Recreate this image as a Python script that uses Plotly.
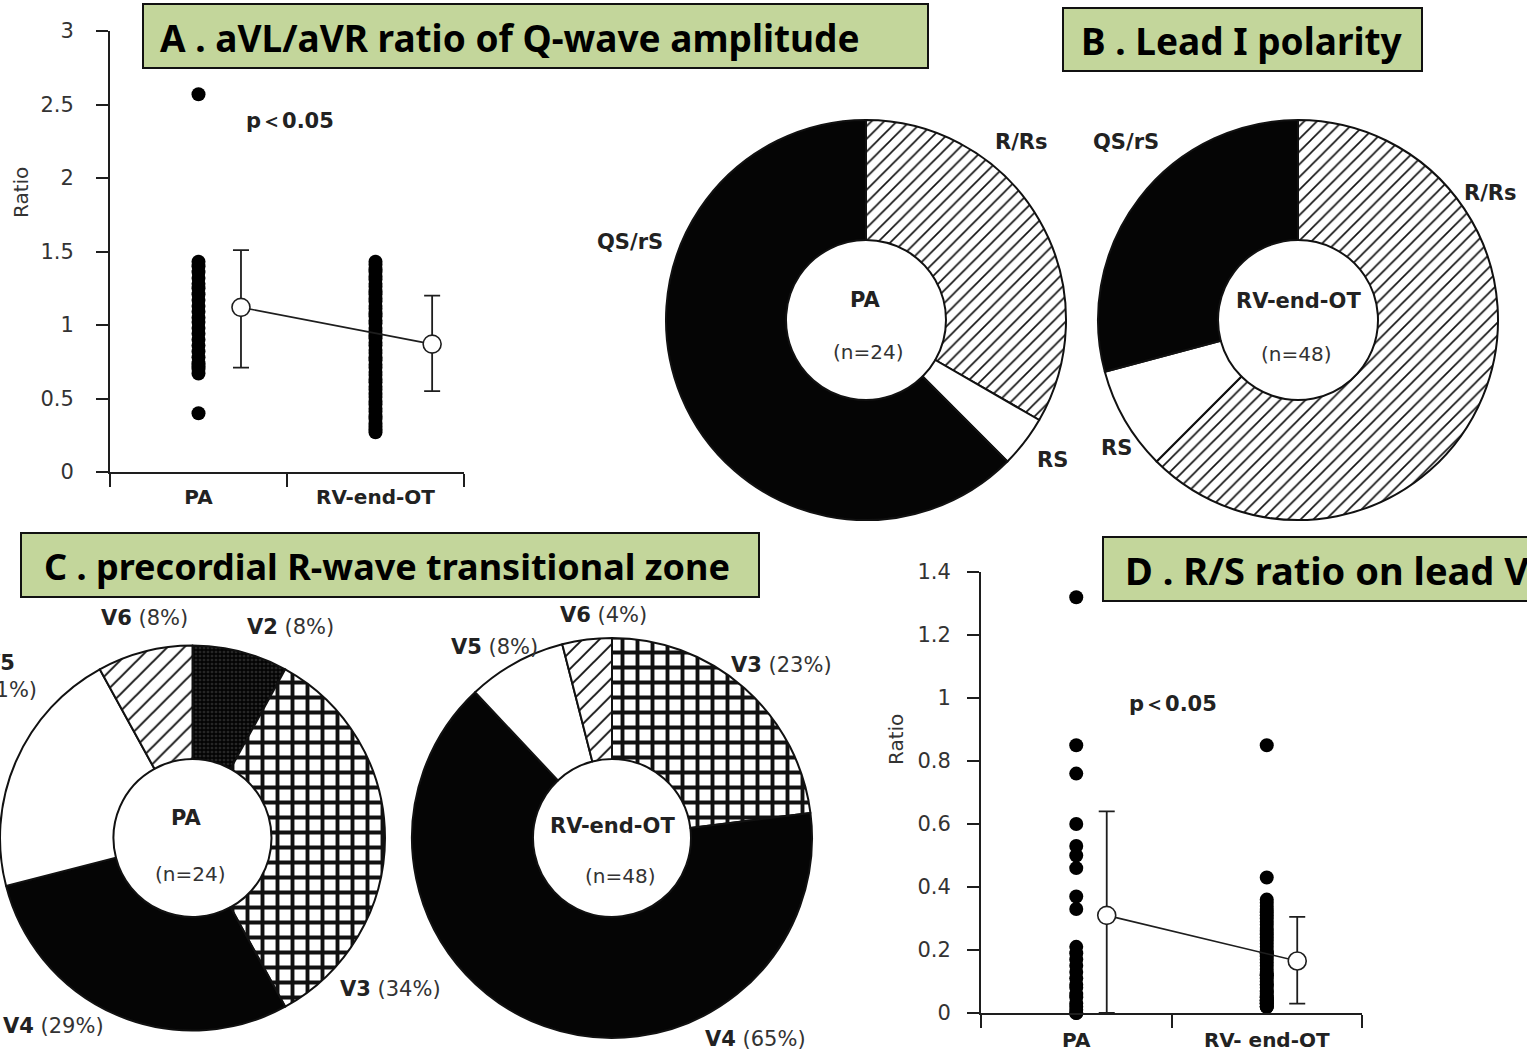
import plotly.graph_objects as go

W, H = 1527, 1054


def X(px):
    return px / W


def Y(py):
    return 1 - py / H


# ---------------- data ----------------
groups_a = ["PA", "RV-end-OT"]
groups_d = ["PA", "RV- end-OT"]
group_x = [0.5, 1.5]

# A. aVL/aVR ratio of Q-wave amplitude
a_pa = [2.57, 1.43, 1.40, 1.36, 1.32, 1.28, 1.25, 1.21, 1.17, 1.13, 1.09, 1.05,
        1.02, 0.98, 0.94, 0.90, 0.86, 0.82, 0.78, 0.74, 0.72, 0.70, 0.67, 0.40]
a_rv = [1.43, 1.41, 1.38, 1.36, 1.33, 1.31, 1.28, 1.26, 1.23, 1.21,
        1.18, 1.16, 1.13, 1.11, 1.08, 1.06, 1.03, 1.01, 0.98, 0.96,
        0.93, 0.91, 0.88, 0.86, 0.83, 0.81, 0.78, 0.76, 0.73, 0.71,
        0.68, 0.66, 0.63, 0.61, 0.58, 0.56, 0.53, 0.51, 0.48, 0.46,
        0.43, 0.41, 0.38, 0.36, 0.33, 0.31, 0.29, 0.27]
a_mean = [1.12, 0.87]
a_err_plus = [0.39, 0.33]
a_err_minus = [0.41, 0.32]
a_mean_x = [0.74, 1.82]

# D. R/S ratio
d_pa = [1.32, 0.85, 0.76, 0.60, 0.53, 0.50, 0.46, 0.37, 0.33, 0.21, 0.19, 0.17,
        0.15, 0.13, 0.11, 0.09, 0.08, 0.06, 0.05, 0.03, 0.02, 0.01, 0.00, 0.00]
d_rv = [0.85, 0.43, 0.36, 0.35, 0.34, 0.33, 0.32, 0.31, 0.30, 0.29, 0.28, 0.27,
        0.26, 0.25, 0.24, 0.23, 0.22, 0.21, 0.20, 0.19, 0.19, 0.18, 0.17, 0.16,
        0.15, 0.14, 0.13, 0.12, 0.12, 0.11, 0.10, 0.09, 0.09, 0.08, 0.07, 0.07,
        0.06, 0.05, 0.05, 0.04, 0.04, 0.03, 0.03, 0.02, 0.02, 0.02, 0.03, 0.04]
d_mean = [0.31, 0.165]
d_err_plus = [0.33, 0.14]
d_err_minus = [0.31, 0.135]
d_mean_x = [0.66, 1.66]

# B. Lead I polarity (counts)
b_labels = ["R/Rs", "RS", "QS/rS"]
b_pa = [8, 1, 15]
b_rv = [30, 4, 14]
n_pa, n_rv = 24, 48

# C. precordial R-wave transitional zone (percent)
c_pa_labels = ["V2", "V3", "V4", "V5", "V6"]
c_pa = [8, 34, 29, 21, 8]
c_rv_labels = ["V3", "V4", "V5", "V6"]
c_rv = [23, 65, 8, 4]

titles = ["A . aVL/aVR ratio of Q-wave amplitude", "B . Lead I polarity",
          "C . precordial R-wave transitional zone", "D . R/S ratio on lead V1"]

# ---------------- styles ----------------
INK = "#1e1e1e"
FONT = "DejaVu Sans"
TFONT = "Noto Sans"
GREEN = "#C3D69B"

fill = {
    "R/Rs": dict(color="white", shape="/", fg="#111", bg="white", size=9, sol=0.18),
    "RS": dict(color="white", shape="", fg="#111", bg="white", size=8, sol=0.2),
    "QS/rS": dict(color="#050505", shape="", fg="#050505", bg="#050505", size=8, sol=0.2),
    "V2": dict(color="#111111", shape="+", fg="#000000", bg="#262626", size=4, sol=0.55),
    "V3": dict(color="white", shape="+", fg="#111", bg="white", size=15, sol=0.45),
    "V4": dict(color="#050505", shape="", fg="#050505", bg="#050505", size=8, sol=0.2),
    "V5": dict(color="white", shape="", fg="#111", bg="white", size=8, sol=0.2),
    "V6": dict(color="white", shape="/", fg="#111", bg="white", size=12, sol=0.16),
}


def pie(values, labels, cx, cy, r, hole_r, xdom=None):
    if xdom is None:
        xdom = [X(cx - r), X(cx + r)]
    return go.Pie(
        values=values, labels=labels, sort=False, direction="clockwise", rotation=0,
        hole=hole_r / r, domain=dict(x=xdom, y=[Y(cy + r), Y(cy - r)]),
        textinfo="none", hoverinfo="label+value", showlegend=False,
        marker=dict(
            colors=[fill[l]["color"] for l in labels],
            line=dict(color="#111", width=2),
            pattern=dict(
                shape=[fill[l]["shape"] for l in labels],
                fgcolor=[fill[l]["fg"] for l in labels],
                bgcolor=[fill[l]["bg"] for l in labels],
                size=[fill[l]["size"] for l in labels],
                solidity=[fill[l]["sol"] for l in labels],
            ),
        ),
    )


fig = go.Figure()

# ---- A scatter ----
fig.add_trace(go.Scatter(x=[group_x[0]] * len(a_pa), y=a_pa, mode="markers",
                         marker=dict(size=14, color="#000"), xaxis="x", yaxis="y",
                         showlegend=False, cliponaxis=False))
fig.add_trace(go.Scatter(x=[group_x[1]] * len(a_rv), y=a_rv, mode="markers",
                         marker=dict(size=14, color="#000"), xaxis="x", yaxis="y",
                         showlegend=False, cliponaxis=False))
fig.add_trace(go.Scatter(x=a_mean_x, y=a_mean, mode="lines+markers",
                         line=dict(color=INK, width=1.6),
                         marker=dict(size=18, color="white", line=dict(color=INK, width=1.6)),
                         error_y=dict(type="data", array=a_err_plus, arrayminus=a_err_minus,
                                      color=INK, thickness=1.8, width=8),
                         xaxis="x", yaxis="y", showlegend=False, cliponaxis=False))

# ---- D scatter ----
fig.add_trace(go.Scatter(x=[group_x[0]] * len(d_pa), y=d_pa, mode="markers",
                         marker=dict(size=14, color="#000"), xaxis="x2", yaxis="y2",
                         showlegend=False, cliponaxis=False))
fig.add_trace(go.Scatter(x=[group_x[1]] * len(d_rv), y=d_rv, mode="markers",
                         marker=dict(size=14, color="#000"), xaxis="x2", yaxis="y2",
                         showlegend=False, cliponaxis=False))
fig.add_trace(go.Scatter(x=d_mean_x, y=d_mean, mode="lines+markers",
                         line=dict(color=INK, width=1.6),
                         marker=dict(size=18, color="white", line=dict(color=INK, width=1.6)),
                         error_y=dict(type="data", array=d_err_plus, arrayminus=d_err_minus,
                                      color=INK, thickness=1.8, width=8),
                         xaxis="x2", yaxis="y2", showlegend=False, cliponaxis=False))

# ---- pies ----
fig.add_trace(pie(b_pa, b_labels, 866, 320, 200, 80))
fig.add_trace(pie(b_rv, b_labels, 1298, 320, 200, 80))
fig.add_trace(pie(c_pa, c_pa_labels, 192.5, 838, 192.5, 79, xdom=[0, X(385)]))
fig.add_trace(pie(c_rv, c_rv_labels, 612, 838, 200, 79))

axis_common = dict(showline=True, linecolor=INK, linewidth=2, showgrid=False,
                   zeroline=False, tickcolor=INK, tickwidth=2, automargin=False)
tickfont = dict(family=FONT, size=21, color="#333")
catfont = dict(family=FONT, size=20, color="#222")

fig.update_layout(
    width=W, height=H, autosize=False,
    margin=dict(l=0, r=0, t=0, b=0, pad=0, autoexpand=False),
    paper_bgcolor="white", plot_bgcolor="rgba(0,0,0,0)",
    xaxis=dict(domain=[X(110), X(464)], range=[0, 2], anchor="y",
               tickvals=group_x, ticktext=[f"<b>{g}</b>" for g in groups_a],
               ticks="", ticklabelstandoff=6, tickfont=catfont,
               minor=dict(tickvals=[0, 1, 2], ticks="outside", ticklen=13,
                          tickwidth=2, tickcolor=INK, showgrid=False),
               **axis_common),
    yaxis=dict(domain=[Y(472), Y(31)], range=[0, 3], anchor="x", dtick=0.5,
               ticks="outside", ticklen=12, tickfont=tickfont, ticklabelstandoff=18,
               **axis_common),
    xaxis2=dict(domain=[X(981), X(1362)], range=[0, 2], anchor="y2",
                tickvals=group_x, ticktext=[f"<b>{g}</b>" for g in groups_d],
                ticks="", ticklabelstandoff=8, tickfont=catfont,
                minor=dict(tickvals=[0, 1, 2], ticks="outside", ticklen=13,
                           tickwidth=2, tickcolor=INK, showgrid=False),
                **axis_common),
    yaxis2=dict(domain=[Y(1013), Y(572)], range=[0, 1.4], anchor="x2", dtick=0.2,
                ticks="outside", ticklen=12, tickfont=tickfont, ticklabelstandoff=12,
                **axis_common),
)

ann = []


def add_text(text, x, y, size=21, xanchor="center", font=FONT, color="#222", angle=0):
    ann.append(dict(text=text, x=X(x), y=Y(y), xref="paper", yref="paper",
                    xanchor=xanchor, yanchor="middle", showarrow=False, textangle=angle,
                    font=dict(family=font, size=size, color=color)))


# title boxes
boxes = [(143, 4, 928, 68), (1063, 8, 1422, 71), (21, 533, 759, 597), (1103, 537, 1560, 601)]
shapes = []
for (x0, y0, x1, y1) in boxes:
    shapes.append(dict(type="rect", xref="paper", yref="paper", x0=X(x0), x1=X(x1),
                       y0=Y(y1), y1=Y(y0), fillcolor=GREEN, line=dict(color="#111", width=2)))
fig.update_layout(shapes=shapes)

add_text(f"<b>{titles[0]}</b>", 510, 37, size=37, font=TFONT, color="#000")
add_text(f"<b>{titles[1]}</b>", 1242, 40, size=37, font=TFONT, color="#000")
add_text(f"<b>{titles[2]}</b>", 387, 566, size=36, font=TFONT, color="#000")
add_text(f"<b>{titles[3]}</b>", 1123, 570, size=38, font=TFONT, color="#000", xanchor="left")

# axis titles and p-values
add_text("Ratio", 21, 193, size=20, angle=-90, color="#333")
add_text("Ratio", 896, 740, size=20, angle=-90, color="#333")
add_text("<b>p＜0.05</b>", 290, 121, size=21)
add_text("<b>p＜0.05</b>", 1173, 704, size=21)

# B labels
b_pa_pos = [(1021, 142), (1052, 460), (630, 242)]
b_rv_pos = [(1490, 193), (1116, 448), (1126, 142)]
for lab, (x, y) in zip(b_labels, b_pa_pos):
    add_text(f"<b>{lab}</b>", x, y)
for lab, (x, y) in zip(b_labels, b_rv_pos):
    add_text(f"<b>{lab}</b>", x, y)
add_text(f"<b>{groups_a[0]}</b>", 865, 300)
add_text(f"(n={n_pa})", 868, 352, size=20, color="#333")
add_text(f"<b>{groups_a[1]}</b>", 1298, 301)
add_text(f"(n={n_rv})", 1296, 354, size=20, color="#333")

# C labels
c_pa_pos = {"V2": (290, 627, "center"), "V3": (390, 989, "center"),
            "V4": (1, 1026, "left"), "V6": (144, 618, "center")}
for lab, v in zip(c_pa_labels, c_pa):
    if lab == "V5":
        add_text(f"<b>{lab}</b>", 17, 663, xanchor="right")
        add_text(f"({v}%)", 39, 690, xanchor="right", color="#333")
    else:
        x, y, xa = c_pa_pos[lab]
        add_text(f"<b>{lab}</b> <span style='color:#333'>({v}%)</span>", x, y, xanchor=xa)
c_rv_pos = {"V3": (781, 665), "V4": (755, 1039), "V5": (494, 647), "V6": (603, 615)}
for lab, v in zip(c_rv_labels, c_rv):
    x, y = c_rv_pos[lab]
    add_text(f"<b>{lab}</b> <span style='color:#333'>({v}%)</span>", x, y)
add_text(f"<b>{groups_a[0]}</b>", 186, 818)
add_text(f"(n={n_pa})", 190, 874, size=20, color="#333")
add_text(f"<b>{groups_a[1]}</b>", 612, 826)
add_text(f"(n={n_rv})", 620, 876, size=20, color="#333")

fig.update_layout(annotations=ann)

fig.write_html("out.html", config={"displayModeBar": False},
               post_script="document.body.style.margin='0px';document.body.style.overflow='hidden';")
